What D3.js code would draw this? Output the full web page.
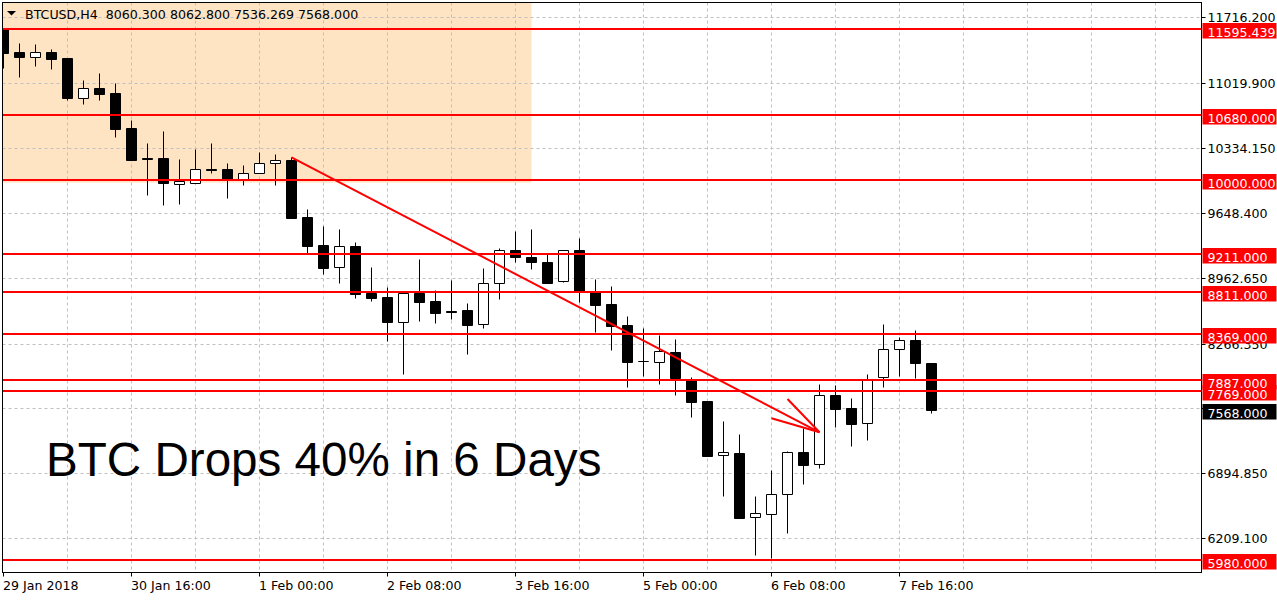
<!DOCTYPE html>
<html>
<head>
<meta charset="utf-8">
<script src="https://cdn.jsdelivr.net/npm/d3@7"></script>
<style>
  body { margin: 0; background: #fff; }
  svg text { font-family: "DejaVu Sans", sans-serif; }
</style>
</head>
<body>
<div id="chart-area"></div>
<script>
const symbol = 'BTCUSD,H4'

// H4 candles, bar 0 = 29 Jan 2018 00:00
const opens = [11590, 11354, 11301, 11354, 11287, 10868, 10970, 10917, 10550, 10227, 10230, 9958, 9969, 10110, 10114, 9994, 10068, 10174, 10209, 9606,
    9310, 9074, 9299, 8805, 8760, 8499, 8805, 8717, 8609, 8622, 8471, 8905, 9254, 9183, 9130, 8926, 9254, 8823, 8686, 8464,
    8080, 8076, 8175, 7882, 7660, 7086, 7107, 6430, 6462, 6673, 7121, 6990, 7720, 7586, 7424, 7911, 8207, 8305, 8060.3]
const highs = [11610, 11449, 11432, 11383, 11290, 11055, 11129, 11023, 10632, 10392, 10515, 10219, 10328, 10389, 10177, 10156, 10293, 10272, 10237, 9690,
    9514, 9479, 9338, 9077, 8862, 8818, 9162, 8834, 8940, 8693, 9063, 9278, 9458, 9479, 9211, 9254, 9387, 8950, 8876, 8559,
    8429, 8358, 8313, 7917, 7660, 7448, 7311, 6655, 6930, 7131, 7371, 7840, 7829, 7692, 7946, 8474, 8334, 8411, 8062.8]
const lows = [11185, 11090, 11206, 11171, 10843, 10804, 10843, 10455, 10209, 9839, 9733, 9743, 9965, 10074, 9810, 9948, 10066, 9948, 9595, 9228,
    9006, 8911, 8752, 8721, 8295, 7949, 8509, 8488, 8524, 8160, 8435, 8742, 9127, 9059, 8911, 8915, 8710, 8393, 8199, 7811,
    7924, 7837, 7727, 7494, 7082, 6658, 6426, 6031, 5996, 6267, 6785, 6955, 7385, 7187, 7251, 7811, 7924, 7903, 7536.269]
const closes = [11343, 11295, 11348, 11280, 10864, 10970, 10910, 10540, 10212, 10219, 9962, 9987, 10110, 10107, 10005, 10068, 10174, 10206, 9598, 9302,
    9070, 9296, 8795, 8752, 8499, 8807, 8710, 8594, 8601, 8467, 8905, 9254, 9180, 9127, 8911, 9254, 8827, 8678, 8458, 8076,
    8078, 8186, 7900, 7652, 7082, 7117, 6426, 6472, 6673, 7117, 6986, 7720, 7579, 7420, 7893, 8207, 8302, 8065, 7568]

const xTickBars = [0, 8, 16, 24, 32, 40, 48, 56]
const xTickLabels = ['29 Jan 2018', '30 Jan 16:00', '1 Feb 00:00', '2 Feb 08:00', '3 Feb 16:00', '5 Feb 00:00', '6 Feb 08:00', '7 Feb 16:00']
const yTicks = [11716.2, 11019.9, 10334.15, 9648.4, 8962.65, 8266.35, 7580.6, 6894.85, 6209.1]

// drawn objects
const levels = [11595.439, 10680, 10000, 9211, 8811, 8369, 7887, 7769, 5980]
const lastPrice = 7568
const zoneBars = [-2, 33]
const zonePrices = [9969, 12000]
const trendBars = [18, 51]
const trendPrices = [10237, 7329]
const arrowBars = [49, 48]
const arrowPrices = [7681, 7477]
const headline = 'BTC Drops 40% in 6 Days'

const W = 1277, H = 600
const plot = { left: 2.5, top: 2.5, right: 1201.5, bottom: 572.5 }
const fmt = d3.format('.3f')

const svg = d3.select('#chart-area').append('svg')
    .attr('width', W)
    .attr('height', H)

const xScale = d3.scaleLinear().domain([0, 74.875]).range([3.5, 1201.5])
const yScale = d3.scaleLinear().domain([5840.6, 11869.2]).range([573, 3])
const py = v => Math.round(yScale(v)) + 0.5

svg.append('clipPath').attr('id', 'plot-clip')
    .append('rect')
    .attr('x', plot.left).attr('y', plot.top)
    .attr('width', plot.right - plot.left).attr('height', plot.bottom - plot.top)

const g = svg.append('g').attr('clip-path', 'url(#plot-clip)')

// rectangle zone
g.append('rect')
    .attr('x', xScale(zoneBars[0]))
    .attr('y', yScale(zonePrices[1]))
    .attr('width', xScale(zoneBars[1]) - xScale(zoneBars[0]))
    .attr('height', yScale(zonePrices[0]) - yScale(zonePrices[1]))
    .attr('fill', '#ffe4c4')

// grid
const vGrid = d3.range(4, 75, 4)
g.selectAll('.vgrid').data(vGrid).enter().append('line')
    .attr('x1', d => xScale(d)).attr('x2', d => xScale(d))
    .attr('y1', plot.top).attr('y2', plot.bottom)
    .attr('stroke', '#c0c0c0').attr('stroke-dasharray', '3,3')
g.selectAll('.hgrid').data(yTicks).enter().append('line')
    .attr('x1', plot.left).attr('x2', plot.right)
    .attr('y1', d => py(d)).attr('y2', d => py(d))
    .attr('stroke', '#c0c0c0').attr('stroke-dasharray', '3,3')

// candles
const bars = opens.map((o, i) => ({ i, o, h: highs[i], l: lows[i], c: closes[i] }))

g.selectAll('.wick').data(bars).enter().append('line')
    .attr('x1', d => xScale(d.i)).attr('x2', d => xScale(d.i))
    .attr('y1', d => py(d.h)).attr('y2', d => py(d.l))
    .attr('stroke', '#000')

g.selectAll('.body').data(bars).enter().append('path')
    .attr('d', d => {
        const x0 = xScale(d.i) - 5, x1 = xScale(d.i) + 5
        const top = py(Math.max(d.o, d.c)), bot = py(Math.min(d.o, d.c))
        return `M${x0},${top}H${x1}V${bot}H${x0}Z`
    })
    .attr('fill', d => d.c < d.o ? '#000' : '#fff')
    .attr('stroke', '#000')

// horizontal levels
g.selectAll('.level').data(levels).enter().append('line')
    .attr('x1', plot.left).attr('x2', plot.right)
    .attr('y1', d => Math.round(yScale(d))).attr('y2', d => Math.round(yScale(d)))
    .attr('stroke', '#ff0000').attr('stroke-width', 2)

// trend line + arrow head
const tip = [xScale(trendBars[1]), yScale(trendPrices[1])]
g.append('line')
    .attr('x1', xScale(trendBars[0])).attr('y1', yScale(trendPrices[0]))
    .attr('x2', tip[0]).attr('y2', tip[1])
    .attr('stroke', '#ff0000').attr('stroke-width', 2)
g.selectAll('.wing').data(arrowBars).enter().append('line')
    .attr('x1', d => xScale(d)).attr('y1', (d, i) => yScale(arrowPrices[i]))
    .attr('x2', tip[0]).attr('y2', tip[1])
    .attr('stroke', '#ff0000').attr('stroke-width', 2)

// headline
g.append('text')
    .attr('x', 46).attr('y', 476)
    .attr('font-size', '47.6px')
    .style('font-family', '"Liberation Sans", Arial, sans-serif')
    .attr('fill', '#000')
    .text(headline)

// frame
svg.append('rect')
    .attr('x', plot.left).attr('y', plot.top)
    .attr('width', plot.right - plot.left).attr('height', plot.bottom - plot.top)
    .attr('fill', 'none').attr('stroke', '#000')

// symbol line
svg.append('path').attr('d', 'M7,11H16L11.5,15.5Z').attr('fill', '#000')
const last = bars[bars.length - 1]
svg.append('text')
    .attr('x', 25).attr('y', 18.5)
    .attr('font-size', '12.6px')
    .attr('fill', '#000')
    .style('white-space', 'pre')
    .text(`${symbol}  ${fmt(last.o)} ${fmt(last.h)} ${fmt(last.l)} ${fmt(last.c)}`)

// y axis ticks and labels
const yAxisG = svg.append('g')
yAxisG.selectAll('.ytick').data(yTicks).enter().append('line')
    .attr('x1', plot.right).attr('x2', plot.right + 4)
    .attr('y1', d => py(d)).attr('y2', d => py(d))
    .attr('stroke', '#000')
yAxisG.selectAll('.ylabel').data(yTicks).enter().append('text')
    .attr('x', 1207.5).attr('y', d => py(d) + 4.5)
    .attr('font-size', '12.6px')
    .attr('fill', '#000')
    .text(d => fmt(d))

// price labels
const priceTags = levels.slice().sort((a, b) => a - b).map(v => ({ v, color: '#ff0000' }))
priceTags.push({ v: lastPrice, color: '#000' })
const tag = svg.selectAll('.tag').data(priceTags).enter().append('g')
tag.append('rect')
    .attr('x', 1202.5).attr('y', d => Math.round(yScale(d.v)) - 6)
    .attr('width', 74).attr('height', 15.5)
    .attr('fill', d => d.color)
tag.append('text')
    .attr('x', 1207.5).attr('y', d => Math.round(yScale(d.v)) + 7.5)
    .attr('font-size', '12.6px')
    .attr('fill', '#fff')
    .text(d => fmt(d.v))

// x axis ticks and labels
const xAxisG = svg.append('g')
xAxisG.selectAll('.xtick').data(xTickBars).enter().append('line')
    .attr('x1', d => xScale(d)).attr('x2', d => xScale(d))
    .attr('y1', plot.bottom).attr('y2', plot.bottom + 4)
    .attr('stroke', '#000')
xAxisG.selectAll('.xlabel').data(xTickBars).enter().append('text')
    .attr('x', d => xScale(d) - 0.5).attr('y', 590)
    .attr('font-size', '12.6px')
    .attr('fill', '#000')
    .text((d, i) => xTickLabels[i])
</script>
</body>
</html>
